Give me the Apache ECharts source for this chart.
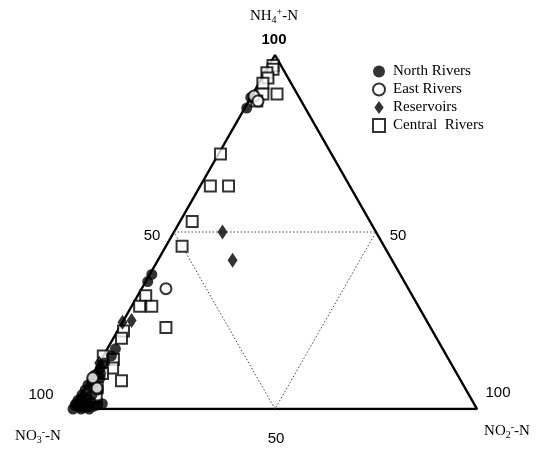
<!DOCTYPE html>
<html>
<head>
<meta charset="utf-8">
<script src="https://cdn.jsdelivr.net/npm/echarts@6/dist/echarts.min.js"></script>
<style>
  html, body { margin: 0; padding: 0; background: #fff; }
  #chart { width: 540px; height: 450px; }
</style>
</head>
<body>
<div id="chart"></div>
<script>
// Ternary composition, each sample as [NH4+-N %, NO2--N %]; NO3--N is the remainder.
const northRivers = [
  [88, 0], [85, 0.5], [38, 0.5], [36, 0.5], [17, 2], [15, 2], [13, 1.3], [11.5, 1],
  [9.6, 0.6], [8.2, 0.6], [6.8, 0.3], [5.4, 0.3], [4, 0.2], [2.5, 0], [1, 0],
  [0.6, 1.4], [0.6, 3.4], [0.8, 4.8], [8.8, 2.3], [5.4, 3.5], [4, 2.7], [1.5, 0],
  [0, 0], [2, 1.5], [3, 0.5], [7, 1.5], [10, 1.8], [0.5, 2.5], [0, 2], [1.2, 5.5],
  [3, 2], [2, 3.5], [0, 4], [1.5, 6.5]
];
const eastRivers = [
  [88.4, 0.6], [87, 2.3], [34, 6], [8.8, 0.5], [5.9, 3]
];
const reservoirs = [
  [50, 12], [42, 18.5], [24.5, 0], [25, 2], [13, 0]
];
const centralRivers = [
  [97, 1], [96, 1.5], [95, 0.5], [93.5, 1.5], [92, 1], [89, 2.5], [89, 6], [87, 2],
  [72, 0.5], [63, 2.5], [63, 7], [53, 3], [46, 4], [32, 2], [29, 2], [29, 5],
  [23, 11.5], [22, 1.5], [20, 2], [15, 0], [14, 3], [11.6, 4], [10, 2.3], [8, 8],
  [6, 3], [3.5, 4]
];
const seriesNames = ['North Rivers', 'East Rivers', 'Reservoirs', 'Central  Rivers'];

// Triangle corners and the mid-side guide triangle, in the same [NH4, NO2] form
const outerTriangle = [[0, 0], [0, 100], [100, 0], [0, 0]];
const midTriangle = [[50, 0], [50, 50], [0, 50], [50, 0]];

const H = Math.sqrt(3) / 2;
function toXY(p) {
  const nh4 = p[0], no2 = p[1];
  return [no2 + nh4 / 2, nh4 * H];
}

const chart = echarts.init(document.getElementById('chart'), null, { renderer: 'canvas' });

const serif = '"Liberation Serif", "DejaVu Serif", serif';
const sans = '"Liberation Sans", Arial, sans-serif';
const chem = {
  b: { fontFamily: serif, fontSize: 15, color: '#000', lineHeight: 18, verticalAlign: 'middle' },
  sub: { fontFamily: serif, fontSize: 10, color: '#000', lineHeight: 18, verticalAlign: 'bottom' },
  sup: { fontFamily: serif, fontSize: 10, color: '#000', lineHeight: 18, verticalAlign: 'top' }
};

function label(x, y, text, opts) {
  return {
    type: 'text', x: x, y: y,
    style: Object.assign({
      text: text, fill: '#000', font: '15px ' + sans,
      textAlign: 'center', textVerticalAlign: 'middle'
    }, opts || {})
  };
}

chart.setOption({
  animation: false,
  backgroundColor: '#fff',
  grid: { left: 73, top: 55, width: 404, height: 354 },
  xAxis: { type: 'value', min: 0, max: 100, show: false },
  yAxis: { type: 'value', min: 0, max: 100 * H, show: false },
  legend: {
    data: [
      { name: seriesNames[0], icon: 'circle' },
      { name: seriesNames[1], icon: 'circle' },
      { name: seriesNames[2], icon: 'path://M5,0 L10,7 L5,14 L0,7 Z' },
      { name: seriesNames[3], icon: 'rect' }
    ],
    orient: 'vertical',
    left: 367, top: 59,
    itemWidth: 12, itemHeight: 13, itemGap: 3,
    textStyle: { fontFamily: serif, fontSize: 15, color: '#000', padding: [0, 0, 0, 3] }
  },
  graphic: [
    label(274, 40, '100', { font: 'bold 15px ' + sans }),
    label(152, 236, '50'),
    label(398, 236, '50'),
    label(41, 395, '100'),
    label(498, 393, '100'),
    label(276, 439, '50'),
    label(274, 16, '{b|NH}{sub|4}{sup|+}{b|-N}', { rich: chem }),
    label(38, 436, '{b|NO}{sub|3}{sup|-}{b|-N}', { rich: chem }),
    label(507, 431, '{b|NO}{sub|2}{sup|-}{b|-N}', { rich: chem })
  ],
  series: [
    {
      type: 'line', data: outerTriangle.map(toXY), symbol: 'none', silent: true,
      lineStyle: { color: '#000', width: 2.5 }, z: 1
    },
    {
      type: 'line', data: midTriangle.map(toXY), symbol: 'none', silent: true,
      lineStyle: { color: '#444', width: 1, type: [1.5, 2] }, z: 1
    },
    {
      name: 'Central  Rivers', type: 'scatter', data: centralRivers.map(toXY),
      symbol: 'rect', symbolSize: 11,
      itemStyle: { color: '#fff', borderColor: '#000', borderWidth: 2 }, z: 3
    },
    {
      name: 'North Rivers', type: 'scatter', data: northRivers.map(toXY),
      symbol: 'circle', symbolSize: 11,
      itemStyle: { color: '#000' }, z: 4
    },
    {
      name: 'East Rivers', type: 'scatter', data: eastRivers.map(toXY),
      symbol: 'circle', symbolSize: 11,
      itemStyle: { color: '#fff', borderColor: '#000', borderWidth: 2 }, z: 4
    },
    {
      name: 'Reservoirs', type: 'scatter', data: reservoirs.map(toXY),
      symbol: 'diamond', symbolSize: [10, 15],
      itemStyle: { color: '#000' }, z: 4
    }
  ]
});
</script>
</body>
</html>
